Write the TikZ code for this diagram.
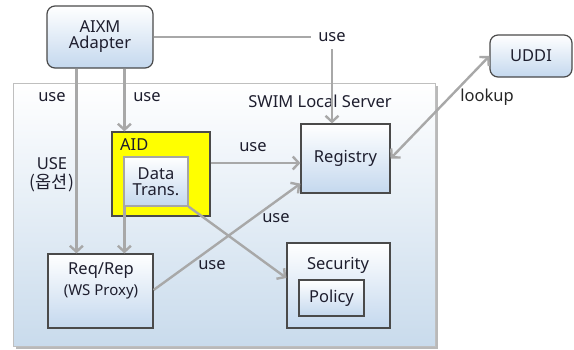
\documentclass[tikz,border=0pt]{standalone}
\usepackage{fontspec}
\setmainfont{Noto Sans}
\newfontfamily\krfont{Noto Sans CJK KR}
\usetikzlibrary{arrows.meta}

\definecolor{boxblue}{HTML}{C4D8EE}
\definecolor{serverblue}{HTML}{C9DBEC}
\definecolor{edgegray}{HTML}{4A4A4A}
\definecolor{arrowgray}{HTML}{A8A8A8}
\definecolor{textdark}{HTML}{1E1E2E}
\definecolor{aidyellow}{HTML}{FFFF00}

\begin{document}
\begin{tikzpicture}[x=1pt, y=-1pt,
  font=\fontsize{16.5}{19}\selectfont, text=textdark,
  comp/.style={draw=edgegray, line width=1.2pt, top color=white, bottom color=boxblue,
    inner sep=0pt, align=center},
  rcomp/.style={comp, rounded corners=8pt},
  arr/.style={draw=arrowgray, line width=2.4pt, -{Straight Barb[length=6pt,width=13pt,line width=2.4pt]}},
  darr/.style={draw=arrowgray, line width=2.4pt, {Straight Barb[length=6pt,width=13pt,line width=2.4pt]}-{Straight Barb[length=6pt,width=13pt,line width=2.4pt]}},
  lbl/.style={inner sep=1pt}]

\useasboundingbox (0,0) rectangle (574,349);

% SWIM local server frame with its shadow
\fill[gray!55] (16,86) rectangle (438,349);
\shade[top color=white, bottom color=serverblue, draw=gray!50, line width=0.8pt]
  (13,83) rectangle (435,346);
\node[lbl] (swimtitle) at (320,101) {SWIM Local Server};

% external components
\node[rcomp, minimum width=106pt, minimum height=62pt] (aixm) at (100,37)
  {AIXM\\[-3pt]Adapter};
\node[rcomp, minimum width=82pt, minimum height=42pt] (uddi) at (531,56) {UDDI};

% AID with its data transformer
\node[draw=edgegray, line width=1.2pt, fill=aidyellow, minimum width=98pt,
  minimum height=84pt, inner sep=0pt] (aid) at (161,174) {};
\node[lbl, anchor=west] (aidlbl) at (119,145) {AID};
\node[comp, draw=gray!70, minimum width=64pt, minimum height=49pt] (dt) at (156,181.5)
  {Data\\[-3pt]Trans.};

% server components
\node[comp, minimum width=89pt, minimum height=69pt] (reg) at (345.5,158.5) {Registry};
\node[comp, minimum width=103pt, minimum height=85pt] (sec) at (338.5,285.5) {};
\node[lbl] (seclbl) at (338,265) {Security};
\node[comp, minimum width=65pt, minimum height=36pt] (pol) at (331.5,298) {Policy};
\node[comp, minimum width=105pt, minimum height=74pt] (req) at (100.5,291) {};
\node[lbl] (reqlbl) at (101,271) {Req/Rep};
\node[lbl, font=\fontsize{15}{17}\selectfont] (reqsub) at (101,292) {(WS Proxy)};

% connectors
\draw[arr] ([xshift=30pt]aixm.south west) -- ([xshift=29pt]req.north west);
\draw[arr] ([xshift=78pt]aixm.south west) -- ([xshift=13pt]aid.north west);
\draw[arr] ([xshift=1pt]dt.south west) -- ([xshift=77pt]req.north west);
\draw[arr] ([yshift=11pt]aid.east) -- ([yshift=11pt]aid.east -| reg.west);
\draw[arr] (aixm.east) -| node[pos=0.5, fill=white, inner sep=7pt] {use}
  ([xshift=-13.5pt]reg.north);
\draw[arr] ([yshift=1pt]req.east) -- ([yshift=10pt]reg.south west);
\draw[arr] (dt.south east) -- ([yshift=7.5pt]sec.west);
\draw[darr] (reg.east) -- (uddi.west);

% connector labels
\node[lbl] (u1) at (52,97) {use};
\node[lbl] (u2) at (147,97) {use};
\node[lbl] (u3) at (52,164) {USE};
\node[lbl, font=\krfont\fontsize{17.5}{20}\selectfont] (u3k) at (52,183) {(옵션)};
\node[lbl] (u4) at (253,147) {use};
\node[lbl] (u5) at (276,218) {use};
\node[lbl] (u6) at (212,265) {use};
\node[lbl, text=gray!30!black] (lk) at (487,97) {lookup};
\end{tikzpicture}
\end{document}
